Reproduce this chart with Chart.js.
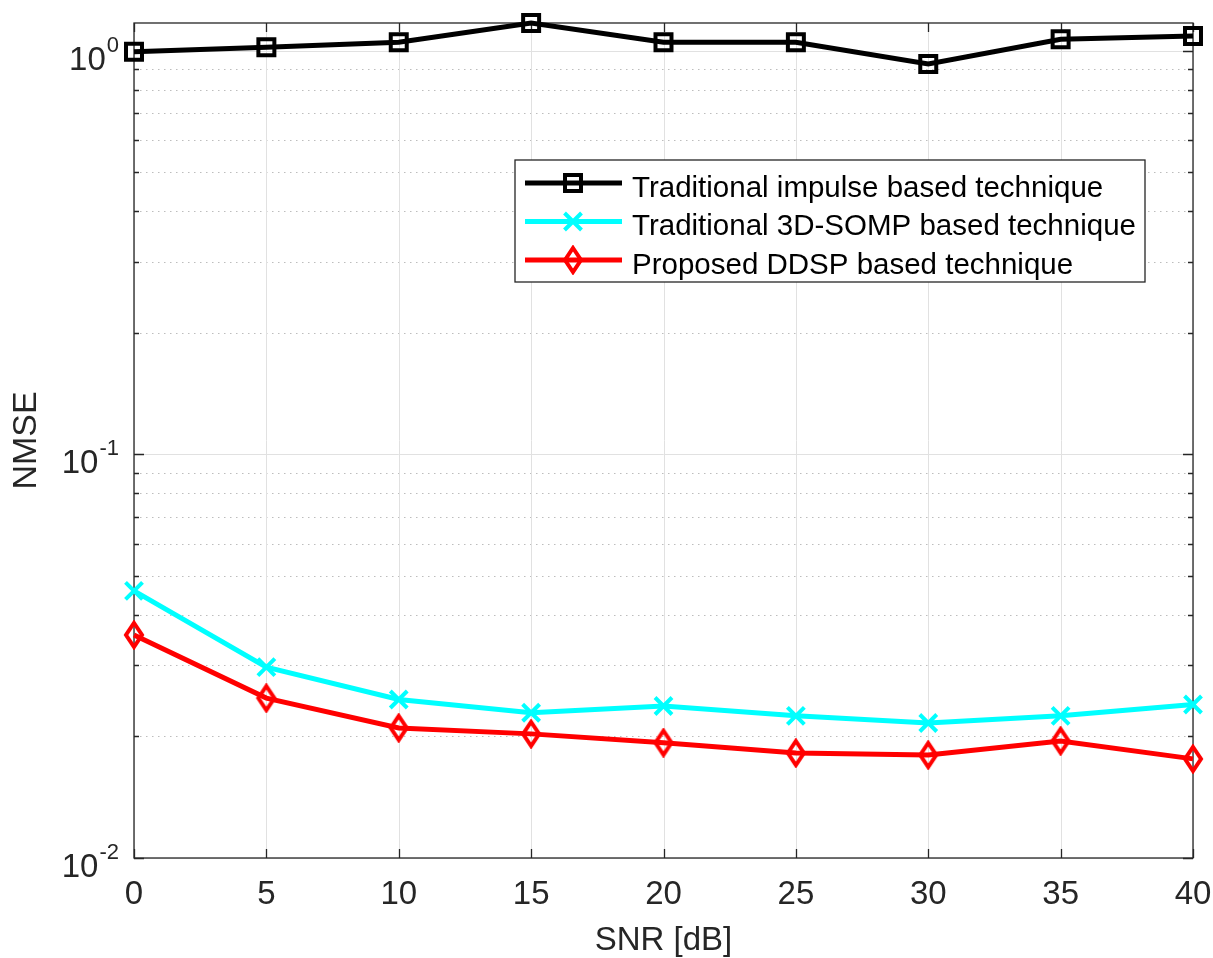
<!DOCTYPE html>
<html>
<head>
<meta charset="utf-8">
<title>NMSE vs SNR</title>
<script src="https://cdn.jsdelivr.net/npm/chart.js@4.4.1/dist/chart.umd.min.js"></script>
<style>
  html, body { margin: 0; padding: 0; background: #fff; }
  canvas { display: block; }
</style>
</head>
<body>
<canvas id="chart" width="1213" height="958"></canvas>
<script>
// data
const snr = [0, 5, 10, 15, 20, 25, 30, 35, 40];
const impulseNmse = [0.994, 1.02, 1.049, 1.171, 1.049, 1.049, 0.927, 1.067, 1.088];
const sompNmse = [0.0459, 0.0297, 0.0247, 0.0229, 0.0238, 0.0225, 0.0216, 0.0225, 0.0240];
const ddspNmse = [0.0357, 0.0249, 0.0210, 0.0203, 0.0193, 0.0182, 0.0180, 0.0195, 0.0176];

const seriesLabels = [
  'Traditional impulse based technique',
  'Traditional 3D-SOMP based technique',
  'Proposed DDSP based technique'
];

const xTicks = [0, 5, 10, 15, 20, 25, 30, 35, 40];
const yDecades = [0.01, 0.1, 1];
const yExponents = ['-2', '-1', '0'];
const yMin = 0.01;
const yMax = 1.171;

const FONT = '"Liberation Sans", Arial, Helvetica, sans-serif';
const AXIS_COLOR = '#262626';

Chart.defaults.font.family = FONT;
Chart.defaults.color = AXIS_COLOR;

// minor + major positions for log grid (1..9 x each decade)
const yGridValues = [];
yDecades.forEach(d => {
  for (let m = 1; m <= 9; m++) {
    const v = +(m * d).toPrecision(3);
    if (v >= yMin && v <= yMax) yGridValues.push(v);
  }
});
const isDecade = v => yDecades.some(d => Math.abs(d - v) < 1e-9);

// MATLAB style tall diamond marker
function makeDiamond(color, hw, hh, lw) {
  const c = document.createElement('canvas');
  c.width = Math.ceil(2 * hw + lw + 2);
  c.height = Math.ceil(2 * hh + lw + 2);
  const g = c.getContext('2d');
  const cx = c.width / 2, cy = c.height / 2;
  g.strokeStyle = color;
  g.lineWidth = lw;
  g.lineJoin = 'miter';
  g.beginPath();
  g.moveTo(cx, cy - hh);
  g.lineTo(cx + hw, cy);
  g.lineTo(cx, cy + hh);
  g.lineTo(cx - hw, cy);
  g.closePath();
  g.stroke();
  return c;
}
const diamond = makeDiamond('#ff0000', 8, 12, 4);

// grid, box and inward ticks, drawn under the lines like MATLAB's default layer
const axesBox = {
  id: 'axesBox',
  beforeDatasetsDraw(chart) {
    const { ctx, chartArea: a, scales: { x, y } } = chart;
    ctx.save();
    ctx.lineWidth = 1;

    // dotted minor grid
    ctx.strokeStyle = '#bdbdbd';
    ctx.setLineDash([1.5, 4.5]);
    yGridValues.filter(v => !isDecade(v)).forEach(v => {
      const py = Math.round(y.getPixelForValue(v)) + 0.5;
      ctx.beginPath();
      ctx.moveTo(a.left, py);
      ctx.lineTo(a.right, py);
      ctx.stroke();
    });
    ctx.setLineDash([]);

    // solid major grid
    ctx.strokeStyle = '#e1e1e1';
    xTicks.forEach(v => {
      const px = Math.round(x.getPixelForValue(v)) + 0.5;
      ctx.beginPath();
      ctx.moveTo(px, a.top);
      ctx.lineTo(px, a.bottom);
      ctx.stroke();
    });
    yDecades.forEach(v => {
      const py = Math.round(y.getPixelForValue(v)) + 0.5;
      ctx.beginPath();
      ctx.moveTo(a.left, py);
      ctx.lineTo(a.right, py);
      ctx.stroke();
    });

    // box
    ctx.strokeStyle = AXIS_COLOR;
    ctx.lineWidth = 1.3;
    ctx.strokeRect(a.left, a.top, a.right - a.left, a.bottom - a.top);

    // ticks pointing inside
    ctx.beginPath();
    xTicks.forEach(v => {
      const px = Math.round(x.getPixelForValue(v)) + 0.5;
      ctx.moveTo(px, a.bottom); ctx.lineTo(px, a.bottom - 9);
      ctx.moveTo(px, a.top); ctx.lineTo(px, a.top + 9);
    });
    yGridValues.forEach(v => {
      const py = Math.round(y.getPixelForValue(v)) + 0.5;
      const len = isDecade(v) ? 10 : 5;
      ctx.moveTo(a.left, py); ctx.lineTo(a.left + len, py);
      ctx.moveTo(a.right, py); ctx.lineTo(a.right - len, py);
    });
    ctx.stroke();
    ctx.restore();
  }
};

// 10^n labels with superscripts
const logLabels = {
  id: 'logLabels',
  afterDraw(chart) {
    const { ctx, scales: { y } } = chart;
    const right = 119;
    ctx.save();
    ctx.fillStyle = AXIS_COLOR;
    ctx.textAlign = 'right';
    ctx.textBaseline = 'alphabetic';
    yDecades.forEach((d, i) => {
      const py = y.getPixelForValue(d);
      ctx.font = '22px ' + FONT;
      const supW = ctx.measureText(yExponents[i]).width;
      ctx.fillText(yExponents[i], right, py + 1);
      ctx.font = '33px ' + FONT;
      ctx.fillText('10', right - supW - 1, py + 19);
    });
    ctx.restore();
  }
};

// legend box inside the axes
const legendBox = {
  id: 'legendBox',
  afterDraw(chart) {
    const { ctx } = chart;
    const box = { left: 515, top: 160, right: 1145, bottom: 282 };
    const rows = [183, 221.5, 260];
    ctx.save();
    ctx.fillStyle = '#ffffff';
    ctx.fillRect(box.left, box.top, box.right - box.left, box.bottom - box.top);
    ctx.strokeStyle = AXIS_COLOR;
    ctx.lineWidth = 1.3;
    ctx.strokeRect(box.left, box.top, box.right - box.left, box.bottom - box.top);

    const ds = chart.data.datasets;
    rows.forEach((ry, i) => {
      const d = ds[i];
      ctx.strokeStyle = d.borderColor;
      ctx.lineWidth = d.borderWidth;
      ctx.beginPath();
      ctx.moveTo(525, ry);
      ctx.lineTo(622, ry);
      ctx.stroke();
      const mx = 573;
      ctx.lineWidth = d.pointBorderWidth;
      if (d.pointStyle === 'rect') {
        const s = d.pointRadius * Math.SQRT1_2;
        ctx.fillStyle = '#fff';
        ctx.fillRect(mx - s, ry - s, 2 * s, 2 * s);
        ctx.beginPath();
        ctx.moveTo(mx - s + 2, ry); ctx.lineTo(mx + s - 2, ry);
        ctx.lineWidth = d.borderWidth;
        ctx.stroke();
        ctx.lineWidth = d.pointBorderWidth;
        ctx.strokeRect(mx - s, ry - s, 2 * s, 2 * s);
      } else if (d.pointStyle === 'crossRot') {
        const o = d.pointRadius * Math.SQRT1_2;
        ctx.beginPath();
        ctx.moveTo(mx - o, ry - o); ctx.lineTo(mx + o, ry + o);
        ctx.moveTo(mx - o, ry + o); ctx.lineTo(mx + o, ry - o);
        ctx.stroke();
      } else {
        ctx.drawImage(d.pointStyle, mx - d.pointStyle.width / 2, ry - d.pointStyle.height / 2);
      }
      ctx.fillStyle = '#000';
      ctx.font = '29.5px ' + FONT;
      ctx.textAlign = 'left';
      ctx.textBaseline = 'alphabetic';
      ctx.fillText(d.label, 632, ry + 13.5);
    });
    ctx.restore();
  }
};

const toPoints = vals => snr.map((s, i) => ({ x: s, y: vals[i] }));

new Chart(document.getElementById('chart'), {
  type: 'line',
  data: {
    datasets: [
      {
        label: seriesLabels[0],
        data: toPoints(impulseNmse),
        borderColor: '#000000',
        borderWidth: 5,
        pointStyle: 'rect',
        pointRadius: 11.3,
        pointBorderWidth: 4,
        pointBorderColor: '#000000',
        pointBackgroundColor: 'rgba(0,0,0,0)',
        order: 3,
        clip: false
      },
      {
        label: seriesLabels[1],
        data: toPoints(sompNmse),
        borderColor: '#00ffff',
        borderWidth: 5,
        pointStyle: 'crossRot',
        pointRadius: 12,
        pointBorderWidth: 4,
        pointBorderColor: '#00ffff',
        pointBackgroundColor: 'rgba(0,0,0,0)',
        order: 2,
        clip: false
      },
      {
        label: seriesLabels[2],
        data: toPoints(ddspNmse),
        borderColor: '#ff0000',
        borderWidth: 5,
        pointStyle: diamond,
        pointRadius: 12,
        pointBorderWidth: 4,
        pointBorderColor: '#ff0000',
        pointBackgroundColor: 'rgba(0,0,0,0)',
        order: 1,
        clip: false
      }
    ]
  },
  options: {
    responsive: false,
    animation: false,
    devicePixelRatio: 1,
    tension: 0,
    layout: { padding: { left: 0, top: 23, right: 20, bottom: 0 } },
    plugins: {
      legend: { display: false },
      tooltip: { enabled: false }
    },
    scales: {
      x: {
        type: 'linear',
        min: 0,
        max: 40,
        grid: { display: false, drawTicks: false },
        border: { display: false },
        ticks: {
          stepSize: 5,
          padding: 17,
          color: AXIS_COLOR,
          font: { size: 33 }
        },
        title: {
          display: true,
          text: 'SNR [dB]',
          color: AXIS_COLOR,
          font: { size: 33, lineHeight: 1 },
          padding: { top: 0, bottom: 0.5 }
        },
        afterFit: s => {
          s.height = 100;
          s.paddingLeft = 0;
          s.paddingRight = 0;
        }
      },
      y: {
        type: 'logarithmic',
        min: yMin,
        max: yMax,
        grid: { display: false, drawTicks: false },
        border: { display: false },
        ticks: { display: false, autoSkip: false },
        afterBuildTicks: s => { s.ticks = yGridValues.map(v => ({ value: v })); },
        title: {
          display: true,
          text: 'NMSE',
          color: AXIS_COLOR,
          font: { size: 34, lineHeight: 1 },
          padding: { top: 9.5, bottom: 0 }
        },
        afterFit: s => {
          s.width = 134;
          s.paddingTop = 0;
          s.paddingBottom = 0;
        }
      }
    }
  },
  plugins: [axesBox, logLabels, legendBox]
});
</script>
</body>
</html>
